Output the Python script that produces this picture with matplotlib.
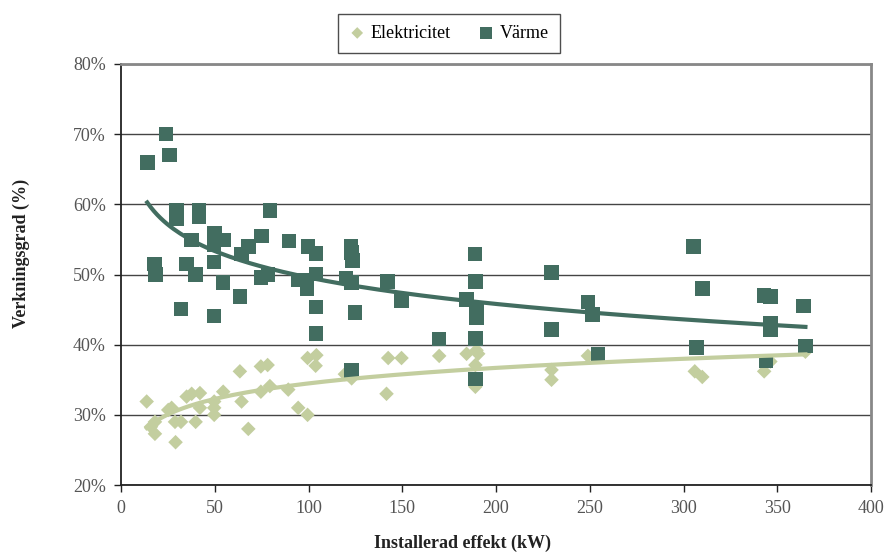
import matplotlib
matplotlib.use("Agg")
import matplotlib.pyplot as plt
import numpy as np
from matplotlib.ticker import FuncFormatter

plt.rcParams['font.family'] = ['Liberation Serif', 'DejaVu Serif']

# Värme (heat efficiency), installed power in kW and efficiency in %
varme_kw = [14, 24, 26, 29.5, 29.5, 41.7, 41.7, 37.7, 50, 54.7, 49.7, 49.7,
            18, 18.5, 35, 39.8, 54.5, 63.4, 32, 49.7, 67.9, 64.3, 75, 79.4,
            74.6, 78.5, 89.6, 99.8, 104, 94.5, 99, 99.3, 104, 104, 104,
            122.6, 123, 123.5, 120, 123, 124.7, 123, 142, 149.6, 169.7,
            188.7, 189, 184.3, 189.6, 189.6, 189, 189, 229.6, 229.6, 249,
            251.4, 254.4, 305.4, 310, 306.9, 343, 346.3, 364, 346.3, 346.3,
            344, 365]
varme_pct = [66.0, 70.0, 67.0, 59.1, 58.0, 59.1, 58.2, 54.9, 55.9, 54.9, 54.2, 51.8,
             51.5, 50.0, 51.5, 50.0, 48.9, 46.9, 45.1, 44.1, 54.0, 52.9, 55.5, 59.1,
             49.6, 50.0, 54.8, 54.0, 53.0, 49.2, 49.2, 48.0, 50.1, 45.4, 41.6,
             54.0, 53.1, 52.0, 49.5, 48.9, 44.6, 36.3, 49.0, 46.2, 40.8,
             52.9, 49.0, 46.4, 45.0, 43.9, 40.9, 35.1, 50.3, 42.2, 46.1,
             44.3, 38.7, 54.0, 48.0, 39.6, 47.0, 46.9, 45.5, 43.1, 42.1,
             37.7, 39.8]

# Elektricitet (electrical efficiency)
el_kw = [13.7, 18.1, 16, 18.1, 25.2, 27, 28.8, 32, 29.1, 35, 37.7, 42.1,
         42.1, 39.8, 49.7, 49.7, 49.7, 54.5, 63.4, 64.3, 67.9, 74.6, 78.2,
         74.6, 79.4, 89.2, 94.5, 99.5, 99.5, 104.2, 103.8, 119.4, 123,
         142.5, 149.6, 141.6, 169.7, 184.3, 189.6, 190.5, 189, 189, 229.6,
         229.6, 249, 306, 310, 343, 346.3, 365]
el_pct = [31.9, 29.0, 28.3, 27.3, 30.7, 31.0, 29.0, 29.0, 26.1, 32.6, 33.0, 33.1,
          31.0, 29.0, 31.9, 31.0, 30.0, 33.3, 36.2, 31.9, 28.0, 36.9, 37.1,
          33.3, 34.1, 33.6, 31.0, 30.0, 38.1, 38.5, 37.0, 35.8, 35.2,
          38.1, 38.1, 33.0, 38.4, 38.7, 39.2, 38.7, 37.1, 34.0, 36.4,
          35.0, 38.4, 36.2, 35.4, 36.2, 37.6, 39.0]

varme_color = '#426D60'
el_color = '#C3CE9F'


def log_trend(xs, ys):
    # logaritmisk trendlinje som i Excel: y = a*ln(x) + b
    xs = np.array(xs)
    coef = np.polyfit(np.log(xs), np.array(ys), 1)
    xx = np.linspace(xs.min(), xs.max(), 200)
    return xx, coef[0] * np.log(xx) + coef[1]


fig = plt.figure(figsize=(8.89, 5.54), dpi=100)
ax = fig.add_axes([0.1361, 0.1245, 0.8437, 0.76])

ax.scatter(el_kw, el_pct, marker='D', s=55, color=el_color, edgecolors='none',
           label='Elektricitet', zorder=3)
ax.scatter(varme_kw, varme_pct, marker='s', s=110, color=varme_color, edgecolors='none',
           label='Värme', zorder=4)

xx, yy = log_trend(el_kw, el_pct)
ax.plot(xx, yy, color=el_color, lw=3, zorder=5)
xx, yy = log_trend(varme_kw, varme_pct)
ax.plot(xx, yy, color=varme_color, lw=3, zorder=5)

ax.set_xlim(0, 400)
ax.set_ylim(20, 80)
ax.set_xticks(np.arange(0, 401, 50))
ax.set_yticks(np.arange(20, 81, 10))
ax.yaxis.set_major_formatter(FuncFormatter(lambda v, p: '%d%%' % v))
ax.grid(axis='y', color='#444444', lw=1)
ax.set_axisbelow(True)

for side in ['left', 'bottom']:
    ax.spines[side].set_color('#222222')
    ax.spines[side].set_linewidth(1.3)
for side in ['top', 'right']:
    ax.spines[side].set_color('#888888')
    ax.spines[side].set_linewidth(2)

ax.tick_params(direction='out', length=5, width=1, color='#222222',
               labelsize=13, labelcolor='#555555', pad=6)

ax.set_xlabel('Installerad effekt (kW)', fontsize=13, fontweight='bold',
              color='#222222')
ax.set_ylabel('Verkningsgrad (%)', fontsize=13, fontweight='bold',
              color='#222222')
ax.xaxis.set_label_coords(0.455, -0.118)
ax.yaxis.set_label_coords(-0.121, 0.549)

leg = fig.legend(loc='upper center', bbox_to_anchor=(0.505, 0.975), ncol=2,
                 fontsize=13, frameon=True, fancybox=False, handletextpad=0.3,
                 handlelength=0.9, columnspacing=1.5, borderpad=0.6,
                 borderaxespad=0, markerscale=0.8)
leg.get_frame().set_edgecolor('#222222')
leg.get_frame().set_linewidth(1)

fig.savefig('out.png', dpi=100)
